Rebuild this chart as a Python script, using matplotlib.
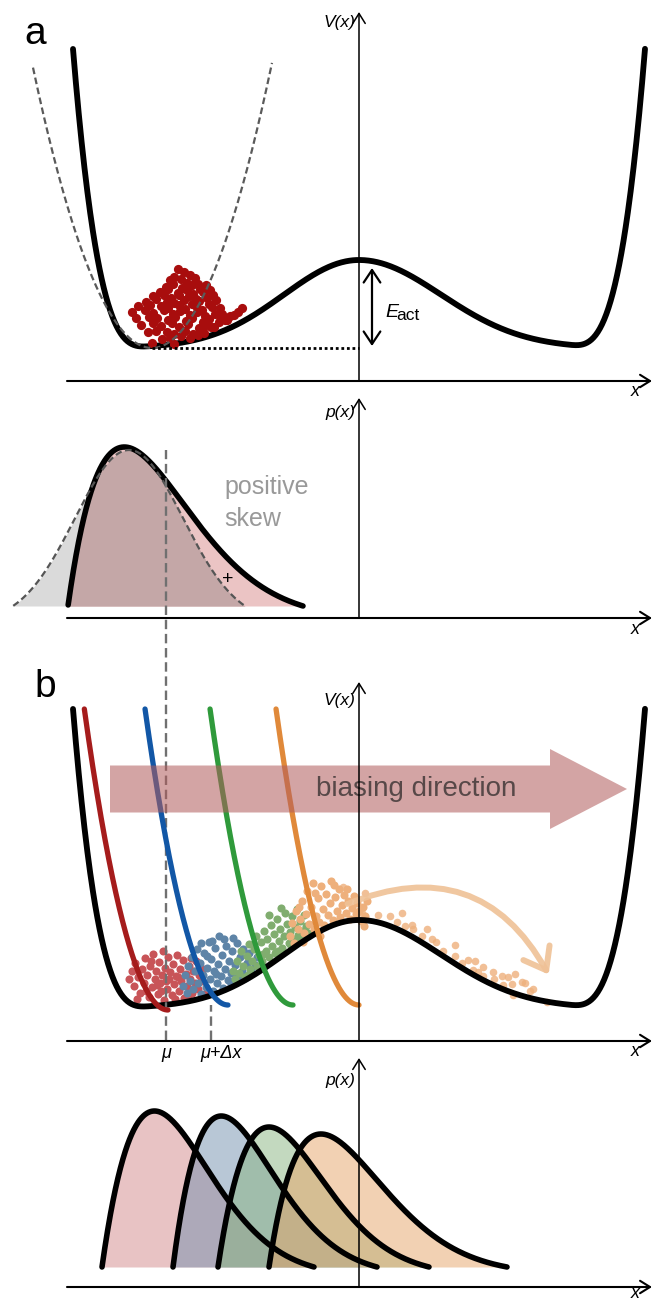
import numpy as np
import matplotlib.pyplot as plt
from matplotlib.patches import FancyArrowPatch

plt.rcParams['font.family'] = ['Liberation Sans', 'DejaVu Sans']

W, H = 653, 1303

# ---------------- data ----------------
# double well potential (same in both potential panels)
well_base = 0.33
barrier_height = 0.88
barrier_width = [0.75, 0.82]      # left / right side of the barrier
wall_start = 2.1
wall_k = 7.0
wall_pow = 3.1
well_xrange = [-2.86, 2.86]

# harmonic approximation of the left well (panel a)
harm_centre, harm_floor, harm_k = -2.07, 0.33, 1.98
harm_xrange = [-3.26, -0.87]

cloud_a_x = [-1.81, -1.75, -1.85, -1.69, -1.89, -1.78, -1.72, -1.64, -1.61, -1.93,
             -1.86, -1.77, -1.67, -1.59, -1.53, -1.99, -1.91, -1.81, -1.72, -1.66,
             -1.56, -1.49, -2.06, -1.95, -1.88, -1.80, -1.70, -1.63, -1.52, -1.46,
             -2.13, -2.03, -1.92, -1.85, -1.75, -1.67, -1.60, -1.50, -1.43, -2.21,
             -2.09, -1.98, -1.91, -1.80, -1.74, -1.63, -1.57, -1.47, -1.39, -2.27,
             -2.14, -2.06, -1.95, -1.86, -1.79, -1.69, -1.62, -1.54, -1.44, -1.37,
             -2.23, -2.10, -2.02, -1.91, -1.84, -1.73, -1.67, -1.56, -1.50, -1.40,
             -1.32, -1.25, -2.18, -2.06, -1.98, -1.87, -1.80, -1.71, -1.60, -1.53,
             -1.45, -1.34, -1.21, -1.17, -2.11, -2.03, -1.92, -1.85, -1.74, -1.66,
             -1.55, -1.48, -1.38, -1.29, -1.97, -1.89, -1.78, -1.69, -2.07, -1.85,
             -1.61]
cloud_a_y = [1.12, 1.09, 1.04, 1.06, 1.01, 1.02, 0.98, 1.03, 0.97, 0.94,
             0.97, 0.93, 0.96, 0.92, 0.96, 0.89, 0.92, 0.88, 0.91, 0.87,
             0.89, 0.91, 0.85, 0.86, 0.83, 0.86, 0.85, 0.82, 0.83, 0.86,
             0.79, 0.82, 0.79, 0.78, 0.81, 0.77, 0.80, 0.77, 0.81, 0.75,
             0.76, 0.75, 0.73, 0.76, 0.72, 0.75, 0.71, 0.74, 0.73, 0.69,
             0.71, 0.68, 0.71, 0.67, 0.70, 0.66, 0.69, 0.65, 0.67, 0.67,
             0.63, 0.64, 0.63, 0.61, 0.64, 0.60, 0.63, 0.59, 0.62, 0.59,
             0.61, 0.66, 0.56, 0.58, 0.55, 0.58, 0.54, 0.57, 0.53, 0.56,
             0.54, 0.61, 0.69, 0.73, 0.49, 0.50, 0.49, 0.47, 0.50, 0.47,
             0.48, 0.54, 0.63, 0.65, 0.42, 0.43, 0.45, 0.43, 0.38, 0.37,
             0.46]

# panel a distribution: skewed (start, length, height, rise, tail) and gaussian
skew_a = [-2.91, 2.35, 1.59, 0.33, 1.32]
gauss_centre, gauss_sigma, gauss_height, gauss_half = -2.30, 0.54, 1.56, 1.16
dist_base_a = 0.12

# panel b: umbrella bias potentials
bias_centres = [-1.91, -1.31, -0.66, 0.0]
bias_floor = [0.31, 0.36, 0.36, 0.36]
bias_k = 4.3
bias_top = 3.32
bias_colors = ['#a51c1c', '#1257a6', '#2f9a3b', '#e0893a']

red_x = [-2.30, -2.27, -2.25, -2.24, -2.21, -2.19, -2.17, -2.15, -2.14, -2.12,
         -2.10, -2.09, -2.07, -2.06, -2.04, -2.03, -2.01, -2.00, -1.99, -1.97,
         -1.96, -1.95, -1.94, -1.92, -1.91, -1.90, -1.89, -1.87, -1.86, -1.85,
         -1.83, -1.82, -1.80, -1.79, -1.78, -1.76, -1.75, -1.73, -1.72, -1.70,
         -1.69, -1.67, -1.66, -1.64, -1.63, -1.61, -1.60, -1.58, -1.56, -1.55,
         -2.22, -2.13, -1.98, -1.84, -1.71, -2.08, -1.93, -1.81, -1.68, -2.02]
red_y = [0.62, 0.70, 0.55, 0.78, 0.64, 0.48, 0.72, 0.58, 0.83, 0.66,
         0.44, 0.75, 0.54, 0.87, 0.62, 0.70, 0.47, 0.79, 0.58, 0.66,
         0.90, 0.41, 0.73, 0.52, 0.84, 0.62, 0.69, 0.46, 0.77, 0.57,
         0.65, 0.86, 0.50, 0.72, 0.60, 0.81, 0.43, 0.67, 0.55, 0.75,
         0.62, 0.48, 0.70, 0.58, 0.80, 0.52, 0.66, 0.60, 0.72, 0.47,
         0.42, 0.50, 0.50, 0.42, 0.45, 0.80, 0.60, 0.64, 0.83, 0.56]

blue_x = [-1.76, -1.74, -1.72, -1.71, -1.69, -1.67, -1.66, -1.64, -1.62, -1.61,
          -1.59, -1.58, -1.56, -1.55, -1.53, -1.52, -1.50, -1.49, -1.48, -1.46,
          -1.45, -1.44, -1.42, -1.41, -1.40, -1.38, -1.37, -1.36, -1.34, -1.33,
          -1.31, -1.30, -1.28, -1.27, -1.25, -1.24, -1.22, -1.21, -1.19, -1.17,
          -1.16, -1.14, -1.12, -1.10, -1.08, -1.06, -1.04, -1.02, -1.00, -1.47,
          -1.35, -1.58, -1.28, -1.43, -1.52, -1.26]
blue_y = [0.55, 0.66, 0.48, 0.75, 0.60, 0.84, 0.52, 0.70, 0.92, 0.58,
          0.78, 0.47, 0.66, 0.88, 0.54, 0.73, 0.99, 0.62, 0.82, 0.50,
          0.70, 0.93, 0.58, 0.77, 1.05, 0.65, 0.86, 0.53, 0.72, 0.95,
          0.61, 0.80, 0.68, 0.90, 0.58, 0.76, 0.98, 0.64, 0.84, 0.70,
          0.92, 0.63, 0.78, 0.88, 0.70, 0.96, 0.76, 0.84, 0.74, 1.00,
          1.02, 0.98, 0.57, 0.67, 0.85, 1.03]

green_x = [-1.26, -1.24, -1.22, -1.20, -1.18, -1.16, -1.14, -1.12, -1.10, -1.09,
           -1.07, -1.05, -1.03, -1.02, -1.00, -0.98, -0.97, -0.95, -0.93, -0.92,
           -0.90, -0.88, -0.87, -0.85, -0.84, -0.82, -0.80, -0.79, -0.77, -0.75,
           -0.74, -0.72, -0.70, -0.69, -0.67, -0.66, -0.64, -0.62, -0.61, -0.59,
           -0.57, -0.55, -0.53, -0.51, -1.11, -0.96, -0.81, -0.68, -0.60, -0.58,
           -0.90, -0.78]
green_y = [0.70, 0.62, 0.80, 0.68, 0.90, 0.75, 0.64, 0.85, 0.97, 0.72,
           0.80, 0.92, 1.05, 0.75, 0.86, 0.99, 0.80, 1.10, 0.90, 1.02,
           0.84, 1.16, 0.95, 1.07, 0.88, 1.22, 1.00, 1.12, 0.93, 1.05,
           1.28, 1.17, 0.98, 1.09, 1.25, 1.02, 1.14, 1.32, 1.06, 1.20,
           1.10, 1.26, 1.15, 1.08, 0.66, 0.87, 0.90, 0.95, 1.00, 1.03,
           1.26, 1.33]

orange_x = [-0.69, -0.67, -0.65, -0.63, -0.61, -0.59, -0.57, -0.55, -0.53, -0.52,
            -0.50, -0.48, -0.46, -0.45, -0.43, -0.41, -0.40, -0.38, -0.36, -0.35,
            -0.33, -0.31, -0.29, -0.28, -0.26, -0.24, -0.22, -0.20, -0.19, -0.17,
            -0.15, -0.13, -0.11, -0.09, -0.07, -0.05, -0.03, -0.02, 0.00, 0.02,
            0.04, 0.06, 0.08, -0.60, -0.44, -0.25, -0.12, -0.39, -0.56, 0.05]
orange_y = [1.05, 1.18, 0.98, 1.30, 1.12, 1.22, 1.40, 1.08, 1.27, 1.50,
            1.17, 1.34, 1.58, 1.12, 1.25, 1.43, 1.19, 1.55, 1.32, 1.16,
            1.47, 1.26, 1.38, 1.60, 1.21, 1.44, 1.30, 1.52, 1.24, 1.36,
            1.46, 1.28, 1.40, 1.22, 1.33, 1.45, 1.27, 1.38, 1.30, 1.20,
            1.34, 1.25, 1.40, 1.34, 1.48, 1.56, 1.52, 1.05, 0.99, 1.15]

trail_x = [-0.16, 0.06, 0.03, 0.19, 0.31, 0.43, 0.38, 0.46, 0.53, 0.54, 0.63, 0.68,
           0.73, 0.77, 0.84, 0.96, 0.96, 1.03, 1.09, 1.16, 1.14, 1.19, 1.24, 1.24,
           1.34, 1.35, 1.43, 1.44, 1.49, 1.53, 1.54, 1.56, 1.63, 1.66, 1.71, 1.74, 1.88]
trail_y = [1.54, 1.48, 1.28, 1.26, 1.25, 1.28, 1.19, 1.15, 1.16, 1.12, 1.05, 1.12,
           1.02, 0.99, 0.90, 0.96, 0.85, 0.78, 0.81, 0.80, 0.71, 0.69, 0.74, 0.65,
           0.69, 0.62, 0.65, 0.56, 0.64, 0.57, 0.46, 0.67, 0.59, 0.58, 0.50, 0.52, 0.39]

cloud_colors = ['#c85458', '#5e84a7', '#80ad6f', '#eeb07c']

mu_x, mu_dx_x = -1.93, -1.48

# panel b distributions
dist_start = [-2.57, -1.86, -1.41, -0.90]
dist_length = [2.12, 2.04, 2.11, 2.38]
dist_height = [1.56, 1.51, 1.40, 1.33]
dist_rise = [0.36, 0.30, 0.33, 0.28]
dist_tail = [1.13, 1.09, 1.13, 1.27]
dist_fill = ['#d3898b', '#7391af', '#89b581', '#e7a569']
dist_base_b = 0.20


def potential(x):
    w = np.where(x < 0, barrier_width[0], barrier_width[1])
    v = well_base + barrier_height * np.exp(-x ** 2 / (2 * w ** 2))
    excess = np.clip(np.abs(x) - wall_start, 0, None)
    return v + wall_k * excess ** wall_pow


def skew_raw(t, length, rise, tail):
    g = (1 - np.exp(-t / rise)) * np.exp(-(t / tail) ** 2)
    g_end = (1 - np.exp(-length / rise)) * np.exp(-(length / tail) ** 2)
    return g - g_end * t / length          # taper so the tail meets the baseline


def skew_shape(x, start, length, height, rise, tail):
    peak = skew_raw(np.linspace(0, length, 800), length, rise, tail).max()
    t = np.asarray(x) - start
    inside = (t >= 0) & (t <= length)
    g = skew_raw(np.clip(t, 0, length), length, rise, tail)
    return np.where(inside, height * np.clip(g, 0, None) / peak, 0.0)


fig = plt.figure(figsize=(W / 100, H / 100), dpi=100)


def panel(top, bottom, axis_y):
    ax = fig.add_axes([0, 1 - bottom / H, 1, (bottom - top) / H])
    ax.set_xlim(-3.59, 2.94)
    ax.set_ylim((axis_y - bottom) / 100, (axis_y - top) / 100)
    ax.axis('off')
    return ax


def draw_axes(ax, y_top, label_y, label, x_lab_y=-0.11):
    ax.annotate('', xy=(2.93, 0), xytext=(-2.92, 0),
                arrowprops=dict(arrowstyle='->,head_length=0.45,head_width=0.28',
                                lw=1.5, color='black', shrinkA=0, shrinkB=0,
                                mutation_scale=16), zorder=6)
    ax.annotate('', xy=(0, y_top), xytext=(0, 0),
                arrowprops=dict(arrowstyle='->,head_length=0.45,head_width=0.28',
                                lw=1.1, color='black', shrinkA=0, shrinkB=0,
                                mutation_scale=16), zorder=6)
    ax.text(-0.04, label_y, label, style='italic', fontsize=12.5,
            ha='right', va='center')
    ax.text(2.76, x_lab_y, 'x', style='italic', fontsize=13, ha='center', va='center')


# ---------------- panel a: potential ----------------
ax1 = panel(0, 395, 381)
draw_axes(ax1, 3.69, 3.59, 'V(x)')
ax1.text(-3.35, 3.37, 'a', fontsize=28, ha='left', va='baseline')

xs = np.linspace(well_xrange[0], well_xrange[1], 800)
ax1.plot(xs, potential(xs), color='black', lw=4.2, solid_capstyle='round', zorder=2)
ax1.scatter(cloud_a_x, cloud_a_y, s=44, color='#a80d0d', lw=0, zorder=3)
xh = np.linspace(harm_xrange[0], harm_xrange[1], 300)
ax1.plot(xh, harm_floor + harm_k * (xh - harm_centre) ** 2, color='#5a5a5a',
         lw=1.6, ls=(0, (3, 1.6)), zorder=4)
ax1.plot([harm_centre, 0], [well_base, well_base], color='black', lw=2,
         ls=(0, (1, 1)), zorder=4)
ax1.annotate('', xy=(0.13, 0.35), xytext=(0.13, 1.13),
             arrowprops=dict(arrowstyle='<->,head_length=0.45,head_width=0.3',
                             lw=1.6, color='black', shrinkA=0, shrinkB=0,
                             mutation_scale=20))
ax1.text(0.26, 0.64, 'E', style='italic', fontsize=14, ha='left', va='baseline')
ax1.text(0.37, 0.61, 'act', fontsize=12.5, ha='left', va='baseline')

# ---------------- panel a: distribution ----------------
ax2 = panel(395, 650, 618)
draw_axes(ax2, 2.20, 2.06, 'p(x)')
xx = np.linspace(gauss_centre - gauss_half, skew_a[0] + skew_a[1], 1200)
g_end = np.exp(-gauss_half ** 2 / (2 * gauss_sigma ** 2))
g_gauss = gauss_height * (np.exp(-(xx - gauss_centre) ** 2 / (2 * gauss_sigma ** 2)) - g_end) / (1 - g_end)
g_gauss = np.where(np.abs(xx - gauss_centre) <= gauss_half, np.clip(g_gauss, 0, None), 0.0)
g_skew = skew_shape(xx, *skew_a)
ax2.fill_between(xx, dist_base_a, dist_base_a + g_gauss, where=g_gauss > 0,
                 color='#dadada', lw=0)
ax2.fill_between(xx, dist_base_a, dist_base_a + g_skew, where=g_skew > 0,
                 color='#ebc4c4', lw=0)
overlap = np.minimum(g_gauss, g_skew)
ax2.fill_between(xx, dist_base_a, dist_base_a + overlap, where=overlap > 0,
                 color='#c4a7a7', lw=0)
ms = (xx >= skew_a[0]) & (xx <= skew_a[0] + skew_a[1])
ax2.plot(xx[ms], dist_base_a + g_skew[ms], color='black', lw=4,
         solid_capstyle='round', zorder=3)
mg = np.abs(xx - gauss_centre) <= gauss_half
ax2.plot(xx[mg], dist_base_a + g_gauss[mg], color='#555555', lw=1.6,
         ls=(0, (3, 1.6)), zorder=4)
ax2.text(-1.31, 0.38, '+', fontsize=14, ha='center', va='center')
ax2.text(-1.35, 1.31, 'positive', fontsize=18, color='#999999', ha='left', va='center')
ax2.text(-1.35, 0.99, 'skew', fontsize=18, color='#999999', ha='left', va='center')

# ---------------- panel b: potential ----------------
ax3 = panel(650, 1062, 1041)
draw_axes(ax3, 3.59, 3.41, 'V(x)')
ax3.text(-3.25, 3.44, 'b', fontsize=28, ha='left', va='baseline')

ax3.scatter(trail_x, trail_y, s=30, color=cloud_colors[3], alpha=0.8, lw=0, zorder=2)
for cx, cy, col in zip([red_x, blue_x, green_x, orange_x],
                       [red_y, blue_y, green_y, orange_y], cloud_colors):
    ax3.scatter(cx, cy, s=34, color=col, lw=0, zorder=2)
ax3.plot(xs, potential(xs), color='black', lw=4.2, solid_capstyle='round', zorder=2.2)

# mu guide lines (run up into panel a)
ax3.plot([mu_x, mu_x], [0.01, 5.91], color='#707070', lw=1.7, ls=(0, (4, 2)),
         clip_on=False, zorder=2.5)
ax3.plot([mu_dx_x, mu_dx_x], [0.01, 0.36], color='#707070', lw=1.7, ls=(0, (4, 2)),
         zorder=2.5)
ax3.text(mu_x, -0.12, 'μ', style='italic', fontsize=13, ha='center', va='center')
ax3.text(-1.38, -0.12, 'μ+Δx', style='italic', fontsize=13, ha='center', va='center')

for c, fl, col in zip(bias_centres, bias_floor, bias_colors):
    half = np.sqrt((bias_top - fl) / bias_k)
    xb = np.linspace(c - half, c, 200)
    ax3.plot(xb, fl + bias_k * (xb - c) ** 2, color=col, lw=3.8,
             solid_capstyle='round', zorder=3)

ax3.arrow(-2.49, 2.52, 5.17, 0, width=0.47, head_width=0.80, head_length=0.77,
          length_includes_head=True, fc='#b25d5d', ec='none', alpha=0.56, zorder=4)
ax3.text(0.57, 2.52, 'biasing direction', fontsize=20, color='#574848',
         ha='center', va='center', zorder=5)

ax3.add_patch(FancyArrowPatch((-0.14, 1.36), (1.91, 0.64),
                              connectionstyle='arc3,rad=-0.45',
                              arrowstyle='->,head_length=0.6,head_width=0.45',
                              mutation_scale=24, lw=4.3, color='#efc196',
                              alpha=0.9, zorder=3.5))

# ---------------- panel b: distributions ----------------
ax4 = panel(1058, 1303, 1287)
draw_axes(ax4, 2.29, 2.07, 'p(x)', x_lab_y=-0.07)
for st, ln, ht, rs, tl, col in zip(dist_start, dist_length, dist_height,
                                   dist_rise, dist_tail, dist_fill):
    xd = np.linspace(st, st + ln, 600)
    yd = skew_shape(xd, st, ln, ht, rs, tl)
    ax4.fill_between(xd, dist_base_b, dist_base_b + yd, color=col, alpha=0.5, lw=0)
    ax4.plot(xd, dist_base_b + yd, color='black', lw=4, solid_capstyle='round')

fig.savefig('out.png', dpi=100)
